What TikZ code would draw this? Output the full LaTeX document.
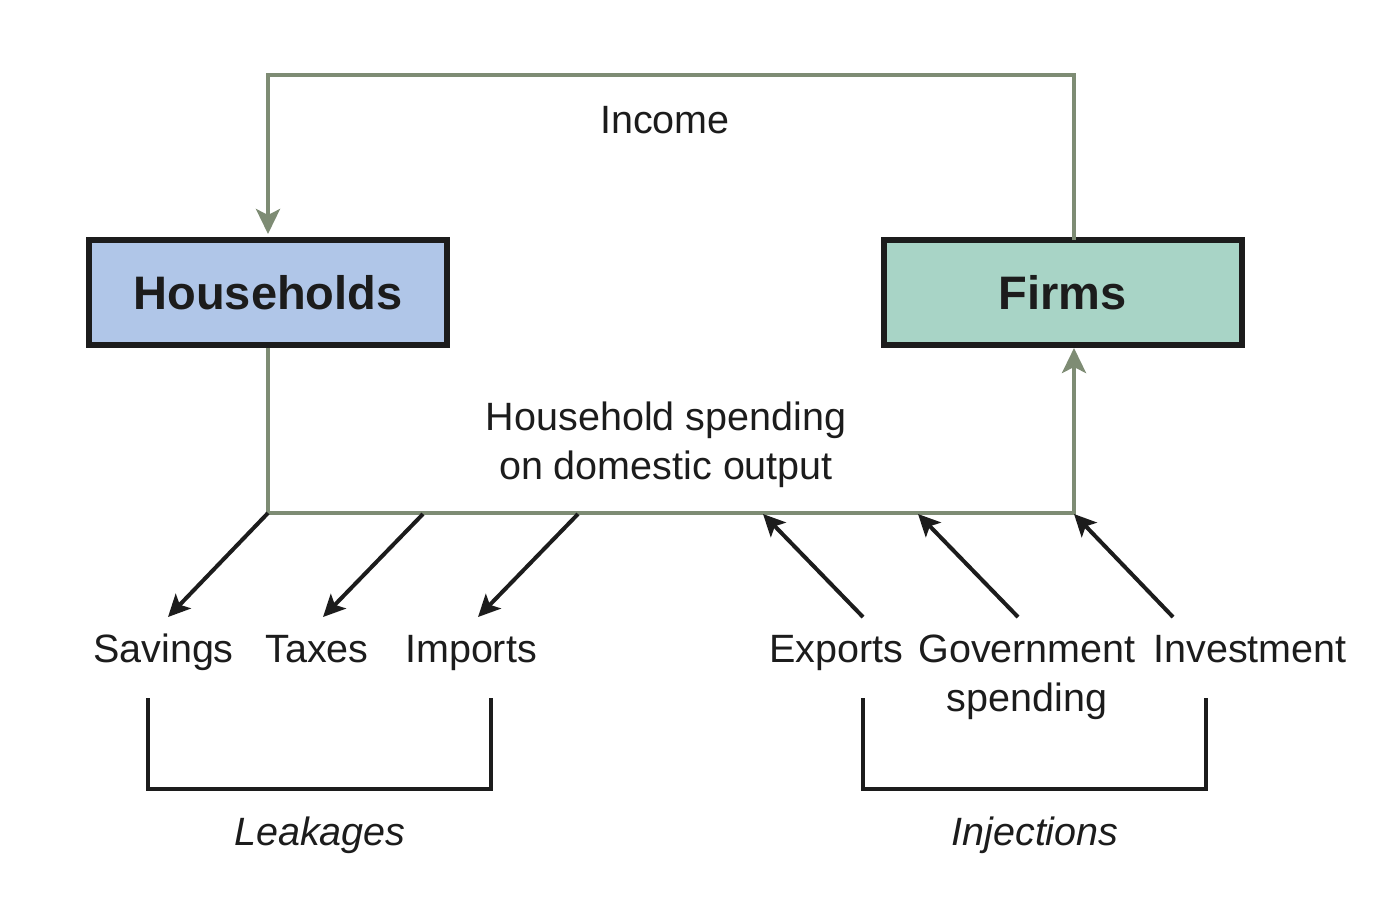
\documentclass[tikz,border=0pt]{standalone}
\usepackage{fontspec}
\setmainfont{Liberation Sans}
\usetikzlibrary{arrows.meta}
\definecolor{flow}{HTML}{7E8C74}
\definecolor{hhblue}{HTML}{B0C6E8}
\definecolor{firmgreen}{HTML}{A8D4C6}
\definecolor{ink}{HTML}{1C1C1C}
\tikzset{
  sector/.style={draw=ink, line width=3pt, minimum width=179pt, minimum height=52.5pt,
    inner sep=0pt, font=\fontsize{23.5}{28}\selectfont\bfseries, text=ink},
  lbl/.style={inner sep=0pt, font=\fontsize{19.75}{24.5}\selectfont, text=ink, anchor=base},
  flowline/.style={draw=flow, line width=2pt},
  flowtip/.style={-{Stealth[length=12.5pt, width=12pt, inset=3pt]}},
  leak/.style={draw=ink, line width=2pt, -{Stealth[length=11pt, width=10.5pt, inset=2.5pt]}},
  brack/.style={draw=ink, line width=1.8pt}
}
\begin{document}
\begin{tikzpicture}[x=0.5pt, y=-0.5pt]
\useasboundingbox (0,0) rectangle (1395,918);
% boxes
\node[sector, fill=hhblue] (hh) at (268,292.5) {Households};
\node[sector, fill=firmgreen] (firms) at (1062.5,292.5) {Firms};
% flow coordinates
\coordinate (tl) at (268,75);
\coordinate (tr) at (1074,75);
\coordinate (bl) at (268,513);
\coordinate (br) at (1074,513);
\coordinate (fb) at (1074,345);
\coordinate (ft) at (1074,240);
% circular flow
\draw[flowline, flowtip, shorten >=1.5pt] (ft) -- (tr) -- (tl) -- (hh.north);
\draw[flowline, flowtip, shorten >=1.5pt] (hh.south) -- (bl) -- (br) -- (fb);
% texts
\node[lbl] (income) at (665,133) {Income};
\node[lbl, align=center] (hsp) at (666,479) {Household spending\\on domestic output};
% labels
\node[lbl] (sav) at (163.5,662) {Savings};
\node[lbl] (tax) at (317,662) {Taxes};
\node[lbl] (imp) at (471,662) {Imports};
\node[lbl] (exp) at (836,662) {Exports};
\node[lbl, align=center] (gov) at (1027,711) {Government\\spending};
\node[lbl] (inv) at (1250,662) {Investment};
% leakage arrows
\coordinate (l1s) at (268,513);
\coordinate (l2s) at (423,514);
\coordinate (l3s) at (578,514);
\coordinate (l1e) at (168,617);
\coordinate (l2e) at (323,617);
\coordinate (l3e) at (478,617);
\draw[leak] (l1s) -- (l1e);
\draw[leak] (l2s) -- (l2e);
\draw[leak] (l3s) -- (l3e);
% injection arrows
\coordinate (i1s) at (863,617);
\coordinate (i2s) at (1018,617);
\coordinate (i3s) at (1173,617);
\coordinate (i1e) at (763,514);
\coordinate (i2e) at (918,514);
\coordinate (i3e) at (1074,514);
\draw[leak] (i1s) -- (i1e);
\draw[leak] (i2s) -- (i2e);
\draw[leak] (i3s) -- (i3e);
% brackets
\coordinate (b1a) at (148,698);
\coordinate (b1b) at (148,789);
\coordinate (b1c) at (491,789);
\coordinate (b1d) at (491,698);
\draw[brack] (b1a) -- (b1b) -- (b1c) -- (b1d);
\coordinate (b2a) at (863,698);
\coordinate (b2b) at (863,789);
\coordinate (b2c) at (1206,789);
\coordinate (b2d) at (1206,698);
\draw[brack] (b2a) -- (b2b) -- (b2c) -- (b2d);
\node[lbl, font=\fontsize{19.75}{24.5}\selectfont\itshape] (leakages) at (320,845) {Leakages};
\node[lbl, font=\fontsize{19.75}{24.5}\selectfont\itshape] (injections) at (1035,845) {Injections};
\end{tikzpicture}
\end{document}
